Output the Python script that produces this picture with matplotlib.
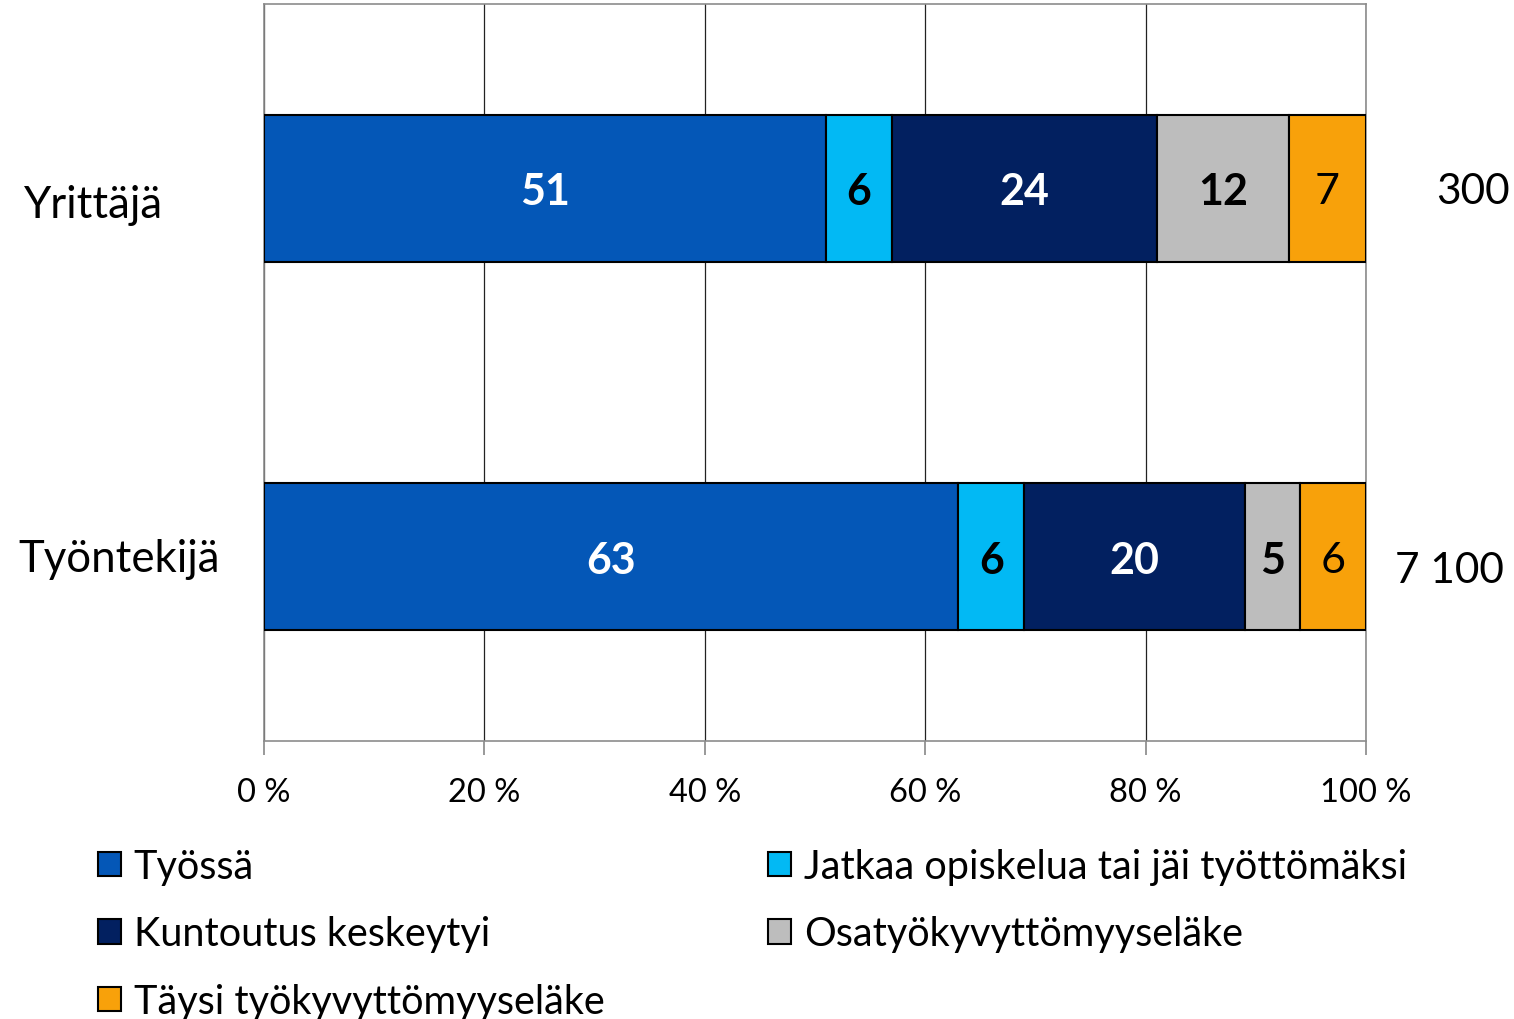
import matplotlib
matplotlib.use("Agg")
import matplotlib.pyplot as plt
from matplotlib.patches import Patch
from matplotlib.transforms import blended_transform_factory

plt.rcParams['font.family'] = ['Lato', 'DejaVu Sans']

categories = ["Työntekijä", "Yrittäjä"]
counts = ["7 100", "300"]
series_names = ["Työssä", "Jatkaa opiskelua tai jäi työttömäksi", "Kuntoutus keskeytyi",
                "Osatyökyvyttömyyseläke", "Täysi työkyvyttömyyseläke"]
tyossa = [63, 51]
jatkaa = [6, 6]
kuntoutus = [20, 24]
osa = [5, 12]
taysi = [6, 7]
series_values = [tyossa, jatkaa, kuntoutus, osa, taysi]
colors = ["#0457B7", "#02B9F4", "#022060", "#BDBDBD", "#F8A10A"]
label_colors = ["white", "black", "white", "black", "black"]
label_weights = ["bold", "bold", "bold", "bold", "normal"]
xticks = [0, 20, 40, 60, 80, 100]

W, H = 1514, 1020
fig = plt.figure(figsize=(W / 100, H / 100), dpi=100)
ax = fig.add_axes([264 / W, 1 - 742 / H, (1366 - 264) / W, (742 - 5) / H])

ypos = list(range(len(categories)))
left = [0] * len(categories)
for vals, col, lc, lw_ in zip(series_values, colors, label_colors, label_weights):
    ax.barh(ypos, vals, left=left, height=0.4, color=col, edgecolor="black",
            linewidth=1.5, zorder=3)
    for y, v, l in zip(ypos, vals, left):
        ax.text(l + v / 2, y - 0.008, f"{v}", ha="center", va="center", color=lc,
                fontsize=31, fontweight=lw_, zorder=4)
    left = [a + b for a, b in zip(left, vals)]

ax.set_xlim(0, 100)
ax.set_ylim(-0.5, 1.5)
ax.set_xticks(xticks)
ax.set_xticklabels([f"{t} %" for t in xticks], fontsize=23.5)
ax.set_yticks([])
ax.tick_params(axis="x", direction="out", length=10, width=1.2, color="#888888", pad=16)
for s in ax.spines.values():
    s.set_color("#8c8c8c")
    s.set_linewidth(1.2)
ax.grid(axis="x", color="#222222", linewidth=0.9, zorder=0)
ax.set_axisbelow(True)

trans = blended_transform_factory(fig.transFigure, ax.transData)
cat_x = [119 / W, 94 / W]
cat_dy = [-0.005, -0.045]
for y, c, cx, dy in zip(ypos, categories, cat_x, cat_dy):
    ax.text(cx, y + dy, c, transform=trans, ha="center", va="center", fontsize=31.5)
cnt_x = [1449 / W, 1473 / W]
cnt_dy = [-0.035, -0.008]
for y, c, cx, dy in zip(ypos, counts, cnt_x, cnt_dy):
    ax.text(cx, y + dy, c, transform=trans, ha="center", va="center", fontsize=30.5)

def mk(i):
    return Patch(facecolor=colors[i], edgecolor="black", linewidth=1.5)

leg_kw = dict(frameon=False, fontsize=28.5, handlelength=0.58, handleheight=0.58,
              handletextpad=0.32, labelspacing=0.77, borderpad=0, borderaxespad=0,
              loc="upper left")
fig.legend([mk(0), mk(2), mk(4)], [series_names[0], series_names[2], series_names[4]],
           bbox_to_anchor=(98 / W, 1 - 849 / H), **leg_kw)
fig.legend([mk(1), mk(3)], [series_names[1], series_names[3]],
           bbox_to_anchor=(768 / W, 1 - 849 / H), **leg_kw)

fig.savefig("out.png", dpi=100)
